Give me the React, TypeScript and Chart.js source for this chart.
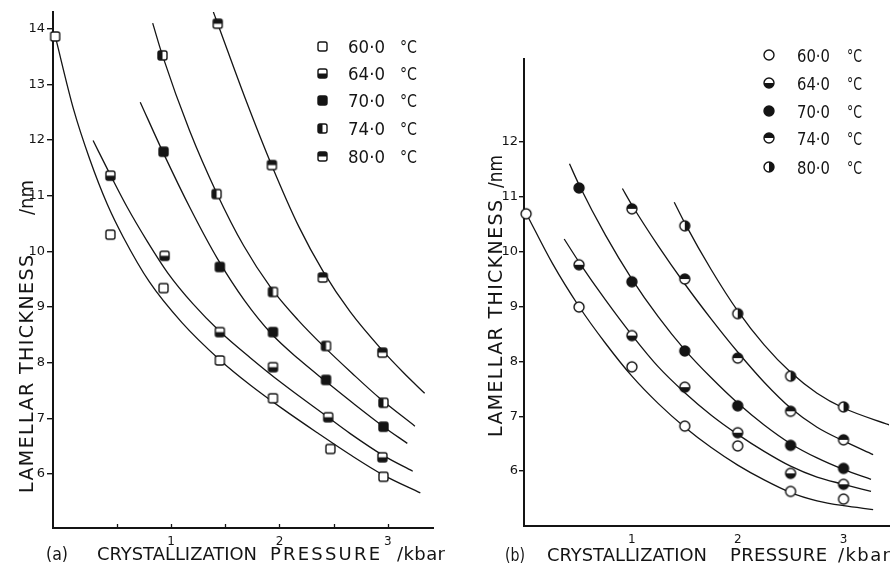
import { useEffect, useRef } from "react";
import { Chart, registerables } from "chart.js";

Chart.register(...registerables);

type Pt = [number, number];
type Shape = "square" | "circle";
type Fill = "none" | "full" | "top" | "bottom" | "left" | "right";

const INK = "#141414";
const FONT = "'DejaVu Sans', 'Liberation Sans', sans-serif";

// Crystallization temperatures (legend rows)
const temperatureLabels = ["60·0", "64·0", "70·0", "74·0", "80·0"];
const temperatureUnit = "°C";

// ---- Panel (a): measured lamellar thickness [pressure / kbar, thickness / nm]
const a60: Pt[] = [[-0.07, 13.86], [0.44, 10.3], [0.93, 9.34], [1.45, 8.04], [1.94, 7.36], [2.47, 6.45], [2.96, 5.95]];
const a64: Pt[] = [[0.44, 11.36], [0.94, 9.92], [1.45, 8.55], [1.94, 7.92], [2.45, 7.02], [2.95, 6.3]];
const a70: Pt[] = [[0.93, 11.79], [1.45, 9.72], [1.94, 8.55], [2.43, 7.69], [2.96, 6.85]];
const a74: Pt[] = [[0.92, 13.52], [1.42, 11.03], [1.94, 9.27], [2.43, 8.3], [2.96, 7.28]];
const a80: Pt[] = [[1.43, 14.09], [1.93, 11.55], [2.4, 9.53], [2.95, 8.18]];

// Panel (a): fitted curves
const a60Fit: Pt[] = [[-0.07, 13.87], [0.1, 12.55], [0.25, 11.65], [0.41, 10.85], [0.56, 10.25], [0.8, 9.45], [1.1, 8.72], [1.45, 8.05], [1.73, 7.6], [2.03, 7.17], [2.35, 6.74], [2.65, 6.35], [2.96, 5.98], [3.3, 5.66]];
const a64Fit: Pt[] = [[0.28, 11.99], [0.44, 11.37], [0.59, 10.81], [0.78, 10.18], [0.97, 9.61], [1.2, 9.06], [1.45, 8.56], [1.73, 8.09], [2.03, 7.62], [2.44, 7.03], [2.65, 6.73], [2.96, 6.33], [3.23, 6.05]];
const a70Fit: Pt[] = [[0.715, 12.68], [0.93, 11.76], [1.18, 10.76], [1.43, 9.86], [1.68, 9.11], [1.93, 8.51], [2.18, 8.06], [2.43, 7.66], [2.68, 7.27], [2.96, 6.85], [3.18, 6.55]];
const a74Fit: Pt[] = [[0.83, 14.1], [0.92, 13.52], [1.17, 12.17], [1.42, 11.05], [1.67, 10.1], [1.92, 9.35], [2.17, 8.77], [2.42, 8.27], [2.67, 7.81], [2.92, 7.37], [3.25, 6.86]];
const a80Fit: Pt[] = [[1.39, 14.3], [1.43, 14.09], [1.68, 12.77], [1.93, 11.54], [2.18, 10.44], [2.4, 9.65], [2.65, 8.92], [2.95, 8.22], [3.15, 7.81], [3.34, 7.45]];

const aYTicks = [6, 7, 8, 9, 10, 11, 12, 13, 14];
const aXTicks = [0.5, 1, 1.5, 2, 2.5, 3];

// ---- Panel (b): measured lamellar thickness
const b60: Pt[] = [[0, 10.69], [0.5, 8.99], [1, 7.9], [1.5, 6.82], [2, 6.46], [2.5, 5.63], [3, 5.49]];
const b64: Pt[] = [[0.5, 9.76], [1, 8.47], [1.5, 7.53], [2, 6.7], [2.5, 5.96], [3, 5.76]];
const b70: Pt[] = [[0.5, 11.16], [1, 9.45], [1.5, 8.19], [2, 7.19], [2.5, 6.47], [3, 6.05]];
const b74: Pt[] = [[1, 10.78], [1.5, 9.5], [2, 8.06], [2.5, 7.09], [3, 6.57]];
const b80: Pt[] = [[1.5, 10.47], [2, 8.87], [2.5, 7.73], [3, 7.17]];

// Panel (b): fitted curves
const b60Fit: Pt[] = [[0, 10.7], [0.25, 9.78], [0.5, 9.0], [0.75, 8.33], [1, 7.73], [1.25, 7.23], [1.5, 6.8], [1.75, 6.43], [2, 6.11], [2.25, 5.84], [2.5, 5.61], [2.75, 5.46], [3, 5.37], [3.28, 5.3]];
const b64Fit: Pt[] = [[0.36, 10.23], [0.5, 9.81], [0.75, 9.12], [1, 8.48], [1.25, 7.9], [1.5, 7.43], [1.75, 7.02], [2, 6.67], [2.25, 6.36], [2.5, 6.09], [2.75, 5.89], [3, 5.76], [3.26, 5.63]];
const b70Fit: Pt[] = [[0.41, 11.6], [0.5, 11.22], [0.75, 10.3], [1, 9.5], [1.25, 8.81], [1.5, 8.21], [1.75, 7.7], [2, 7.24], [2.25, 6.84], [2.5, 6.5], [2.75, 6.24], [3, 6.03], [3.26, 5.85]];
const b74Fit: Pt[] = [[0.91, 11.15], [1, 10.85], [1.25, 10.1], [1.5, 9.41], [1.75, 8.77], [2, 8.17], [2.25, 7.62], [2.5, 7.15], [2.75, 6.8], [3, 6.55], [3.28, 6.3]];
const b80Fit: Pt[] = [[1.4, 10.9], [1.5, 10.52], [1.75, 9.67], [2, 8.92], [2.25, 8.3], [2.5, 7.8], [2.75, 7.42], [3, 7.15], [3.45, 6.83]];

const bYTicks = [6, 7, 8, 9, 10, 11, 12];
const bXTicks = [1, 2, 3];

interface TitlePiece { text: string; from: number; to: number }

interface PanelSpec {
  width: number;
  height: number;
  area: { left: number; top: number; right: number; bottom: number };
  xRange: [number, number];
  yRange: [number, number];
  xTicks: number[];
  yTicks: number[];
  yTickLength: number;
  yTickPadding: number;
  xTickPadding: number;
  innerXTick: number;
  points: Pt[][];
  fits: Pt[][];
  shape: Shape;
  fills: Fill[];
  markerSize: number;
  legend: { markerX: number; rows: number[]; tempFrom: number; tempTo: number; unitFrom: number; unitTo: number; size: number };
  xTitle: { baseline: number; size: number; pieces: TitlePiece[] };
  yTitle: { baseX: number; size: number; pieces: TitlePiece[] };
}

const panelA: PanelSpec = {
  width: 450,
  height: 572,
  area: { left: 53, top: 12, right: 433, bottom: 528 },
  xRange: [-0.09, 3.417],
  yRange: [5.03, 14.3],
  xTicks: aXTicks,
  yTicks: aYTicks,
  yTickLength: 6,
  yTickPadding: 2,
  xTickPadding: 7,
  innerXTick: 4,
  points: [a60, a64, a70, a74, a80],
  fits: [a60Fit, a64Fit, a70Fit, a74Fit, a80Fit],
  shape: "square",
  fills: ["none", "bottom", "full", "left", "top"],
  markerSize: 9,
  legend: { markerX: 322, rows: [46, 73, 100, 128, 156], tempFrom: 348, tempTo: 385, unitFrom: 400, unitTo: 417, size: 18 },
  xTitle: {
    baseline: 560,
    size: 18,
    pieces: [
      { text: "(a)", from: 46, to: 68 },
      { text: "CRYSTALLIZATION", from: 97, to: 257 },
      { text: "PRESSURE", from: 270, to: 380 },
      { text: "/kbar", from: 397, to: 445 },
    ],
  },
  yTitle: {
    baseX: 33,
    size: 19,
    pieces: [
      { text: "LAMELLAR THICKNESS", from: 493, to: 255 },
      { text: "/nm", from: 215, to: 180 },
    ],
  },
};

const panelB: PanelSpec = {
  width: 445,
  height: 572,
  area: { left: 74, top: 59, right: 443, bottom: 526 },
  xRange: [-0.02, 3.43],
  yRange: [5.0, 13.51],
  xTicks: bXTicks,
  yTicks: bYTicks,
  yTickLength: 5,
  yTickPadding: 1,
  xTickPadding: 7,
  innerXTick: 0,
  points: [b60, b64, b70, b74, b80],
  fits: [b60Fit, b64Fit, b70Fit, b74Fit, b80Fit],
  shape: "circle",
  fills: ["none", "bottom", "full", "top", "right"],
  markerSize: 10,
  legend: { markerX: 319, rows: [55, 83, 111, 138, 167], tempFrom: 347, tempTo: 380, unitFrom: 397, unitTo: 412, size: 17 },
  xTitle: {
    baseline: 561,
    size: 18,
    pieces: [
      { text: "(b)", from: 55, to: 75 },
      { text: "CRYSTALLIZATION", from: 97, to: 257 },
      { text: "PRESSURE", from: 280, to: 377 },
      { text: "/kbar", from: 388, to: 440 },
    ],
  },
  yTitle: {
    baseX: 52,
    size: 19,
    pieces: [
      { text: "LAMELLAR THICKNESS", from: 437, to: 200 },
      { text: "/nm", from: 188, to: 155 },
    ],
  },
};

function makeMarker(shape: Shape, fill: Fill, size: number): HTMLCanvasElement {
  const dim = Math.ceil(size + 4);
  const c = document.createElement("canvas");
  c.width = dim;
  c.height = dim;
  const ctx = c.getContext("2d")!;
  const cx = dim / 2;
  const cy = dim / 2;
  const h = size / 2;
  const path = new Path2D();
  if (shape === "circle") path.arc(cx, cy, h, 0, Math.PI * 2);
  else path.roundRect(cx - h, cy - h, size, size, 2);
  ctx.fillStyle = "#fff";
  ctx.fill(path);
  ctx.save();
  ctx.clip(path);
  ctx.fillStyle = INK;
  if (fill === "full") ctx.fillRect(0, 0, dim, dim);
  else if (fill === "top") ctx.fillRect(0, 0, dim, cy);
  else if (fill === "bottom") ctx.fillRect(0, cy, dim, dim - cy);
  else if (fill === "left") ctx.fillRect(0, 0, cx, dim);
  else if (fill === "right") ctx.fillRect(cx, 0, dim - cx, dim);
  ctx.restore();
  ctx.lineWidth = 1.4;
  ctx.strokeStyle = INK;
  ctx.stroke(path);
  return c;
}

// Draws text so that it spans the given length, widening the letter spacing
// (or condensing the glyphs when the text is too long for the span).
function spanText(ctx: CanvasRenderingContext2D, text: string, size: number, x: number, y: number, length: number, rotate: boolean) {
  ctx.save();
  ctx.font = `${size}px ${FONT}`;
  ctx.textAlign = "left";
  ctx.textBaseline = "alphabetic";
  const c = ctx as any;
  const w = ctx.measureText(text).width;
  ctx.translate(x, y);
  if (rotate) ctx.rotate(-Math.PI / 2);
  const gaps = Math.max(text.length - 1, 1);
  if (length > w && "letterSpacing" in c) {
    c.letterSpacing = `${(length - w) / gaps}px`;
  } else {
    ctx.scale(length / w, 1);
  }
  ctx.fillText(text, 0, 0);
  ctx.restore();
}

function Panel({ spec, left }: { spec: PanelSpec; left: number }) {
  const ref = useRef<HTMLCanvasElement | null>(null);

  useEffect(() => {
    const canvas = ref.current;
    if (!canvas) return;
    const markers = spec.fills.map((f) => makeMarker(spec.shape, f, spec.markerSize));

    const decorations = {
      id: "decorations",
      afterDraw(chart: Chart) {
        const ctx = chart.ctx;
        const xs = chart.scales.x;
        ctx.save();
        ctx.fillStyle = INK;
        ctx.strokeStyle = INK;

        if (spec.innerXTick > 0) {
          ctx.lineWidth = 1.3;
          const yb = chart.chartArea.bottom;
          xs.ticks.forEach((t) => {
            const px = Math.round(xs.getPixelForValue(t.value)) + 0.5;
            ctx.beginPath();
            ctx.moveTo(px, yb);
            ctx.lineTo(px, yb - spec.innerXTick);
            ctx.stroke();
          });
        }

        const lg = spec.legend;
        temperatureLabels.forEach((label, i) => {
          const y = lg.rows[i];
          const m = markers[i];
          ctx.drawImage(m, Math.round(lg.markerX - m.width / 2), Math.round(y - m.height / 2));
          spanText(ctx, label, lg.size, lg.tempFrom, y + 7, lg.tempTo - lg.tempFrom, false);
          spanText(ctx, temperatureUnit, lg.size, lg.unitFrom, y + 7, lg.unitTo - lg.unitFrom, false);
        });

        const xt = spec.xTitle;
        xt.pieces.forEach((p) => spanText(ctx, p.text, xt.size, p.from, xt.baseline, p.to - p.from, false));
        const yt = spec.yTitle;
        yt.pieces.forEach((p) => spanText(ctx, p.text, yt.size, yt.baseX, p.from, p.from - p.to, true));
        ctx.restore();
      },
    };

    const pointSets = spec.points.map((pts, i) => ({
      type: "scatter" as const,
      label: temperatureLabels[i],
      data: pts.map(([x, y]) => ({ x, y })),
      pointStyle: markers[i],
      pointRadius: 5,
      showLine: false,
      clip: false as const,
    }));
    const curveSets = spec.fits.map((pts, i) => ({
      type: "line" as const,
      label: temperatureLabels[i] + " fit",
      data: pts.map(([x, y]) => ({ x, y })),
      borderColor: INK,
      borderWidth: 1.3,
      pointRadius: 0,
      fill: false,
      showLine: true,
      cubicInterpolationMode: "monotone" as const,
    }));

    const { area, width, height } = spec;
    const chart = new Chart(canvas, {
      type: "scatter",
      data: { datasets: [...pointSets, ...curveSets] as any },
      options: {
        responsive: false,
        animation: false,
        devicePixelRatio: 1,
        events: [],
        layout: { padding: { left: 0, top: area.top, right: width - area.right, bottom: 0 } },
        plugins: { legend: { display: false }, tooltip: { enabled: false } },
        scales: {
          x: {
            type: "linear",
            min: spec.xRange[0],
            max: spec.xRange[1],
            afterFit: (s: any) => {
              s.height = height - area.bottom;
            },
            afterBuildTicks: (s: any) => {
              s.ticks = spec.xTicks.map((v) => ({ value: v }));
            },
            ticks: {
              autoSkip: false,
              maxRotation: 0,
              padding: spec.xTickPadding,
              color: INK,
              font: { family: FONT, size: 12 },
              callback: (v: any) => (Number.isInteger(Number(v)) ? String(v) : ""),
            },
            grid: { display: false, drawTicks: false },
            border: { display: true, color: INK, width: 2 },
          },
          y: {
            type: "linear",
            min: spec.yRange[0],
            max: spec.yRange[1],
            afterFit: (s: any) => {
              s.width = area.left;
            },
            afterBuildTicks: (s: any) => {
              s.ticks = spec.yTicks.map((v) => ({ value: v }));
            },
            ticks: {
              autoSkip: false,
              padding: spec.yTickPadding,
              color: INK,
              font: { family: FONT, size: 13 },
              callback: (v: any) => String(v),
            },
            grid: { display: true, drawOnChartArea: false, drawTicks: true, tickLength: spec.yTickLength, color: INK, lineWidth: 1.4 },
            border: { display: true, color: INK, width: 2 },
          },
        },
      },
      plugins: [decorations],
    });
    return () => chart.destroy();
  }, [spec]);

  return (
    <canvas
      ref={ref}
      width={spec.width}
      height={spec.height}
      style={{ position: "absolute", left, top: 0, width: spec.width, height: spec.height, display: "block" }}
    />
  );
}

export default function App() {
  return (
    <div style={{ position: "fixed", left: 0, top: 0, width: 895, height: 572, background: "#fff", overflow: "hidden" }}>
      <Panel spec={panelA} left={0} />
      <Panel spec={panelB} left={450} />
    </div>
  );
}
